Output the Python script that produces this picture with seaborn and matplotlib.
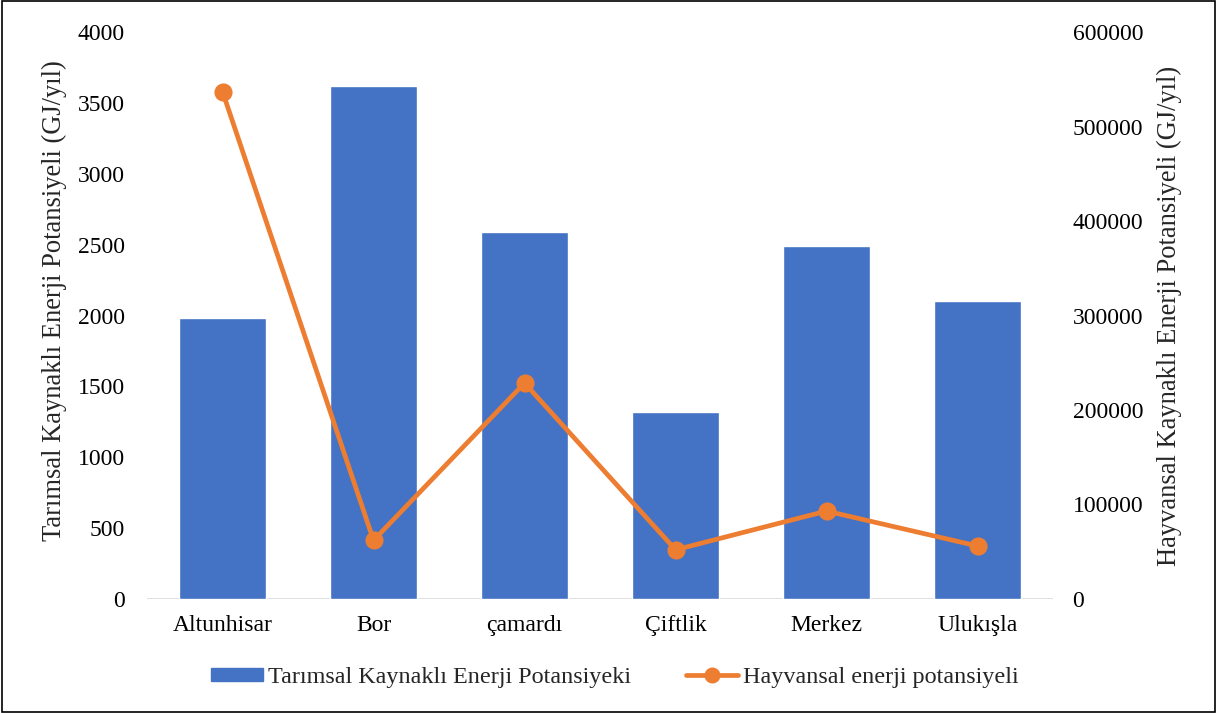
import matplotlib
matplotlib.use("Agg")
import matplotlib.pyplot as plt
import seaborn as sns
import pandas as pd
from matplotlib.patches import Rectangle

districts = ["Altunhisar", "Bor", "çamardı", "Çiftlik", "Merkez", "Ulukışla"]
tarimsal = [1980, 3620, 2590, 1320, 2490, 2100]
hayvansal = [537000, 62000, 228500, 52000, 93000, 56000]

bar_label = "Tarımsal Kaynaklı Enerji Potansiyeki"
line_label = "Hayvansal enerji potansiyeli"

df = pd.DataFrame({"district": districts, "tarimsal": tarimsal, "hayvansal": hayvansal})

sns.set_theme(style="white")
plt.rcParams["font.family"] = ["Liberation Serif", "DejaVu Serif"]

blue = "#4472C4"
orange = "#ED7D31"
tick_fs = 17
label_fs = 19.1
legend_fs = 17.4

fig = plt.figure(figsize=(12.17, 7.13), dpi=100)
ax = fig.add_axes([0.1208, 0.16, 0.7445, 0.795])

# bars on the left axis
sns.barplot(data=df, x="district", y="tarimsal", color=blue, saturation=1,
            width=0.572, ax=ax)
ax.set_ylim(0, 4000)
ax.set_yticks(range(0, 4001, 500))
ax.set_xlim(-0.5, 5.5)
ax.set_xlabel("")
ax.set_ylabel("Tarımsal Kaynaklı Enerji Potansiyeli (GJ/yıl)", fontsize=label_fs, labelpad=8.2)
ax.yaxis.label.set_y(0.527)
ax.axhline(0, color="#D9D9D9", lw=1.2, zorder=0)

# line on the right axis
ax2 = ax.twinx()
sns.pointplot(data=df, x="district", y="hayvansal", color=orange, markers="o",
              linestyles="-", errorbar=None, ax=ax2, markersize=10.5,
              linewidth=3.4)
ax2.set_ylim(0, 600000)
ax2.set_yticks(range(0, 600001, 100000))
ax2.set_xlim(-0.5, 5.5)
ax2.set_ylabel("Hayvansal Kaynaklı Enerji Potansiyeli (GJ/yıl)", fontsize=label_fs, labelpad=10)
ax2.set_xlabel("")

for a in (ax, ax2):
    for s in a.spines.values():
        s.set_visible(False)
    a.tick_params(axis="both", length=0, labelsize=tick_fs, colors="black")
ax.tick_params(axis="y", pad=15.8)
ax2.tick_params(axis="y", pad=14)
ax.tick_params(axis="x", pad=11.5)

handles = [Rectangle((0, 0), 1, 1, color=blue),
           plt.Line2D([], [], color=orange, lw=3.4, marker="o", markersize=10.5)]
fig.legend(handles, [bar_label, line_label], loc="center", bbox_to_anchor=(0.5053, 0.0498),
           ncol=2, frameon=False, fontsize=legend_fs, handlelength=2.15, handleheight=0.49,
           columnspacing=2.28, handletextpad=0.2)

fig.patches.append(Rectangle((0.0015, 0.002), 0.997, 0.996, transform=fig.transFigure,
                             fill=False, edgecolor="black", lw=1.2))

fig.savefig("out.png", dpi=100)
